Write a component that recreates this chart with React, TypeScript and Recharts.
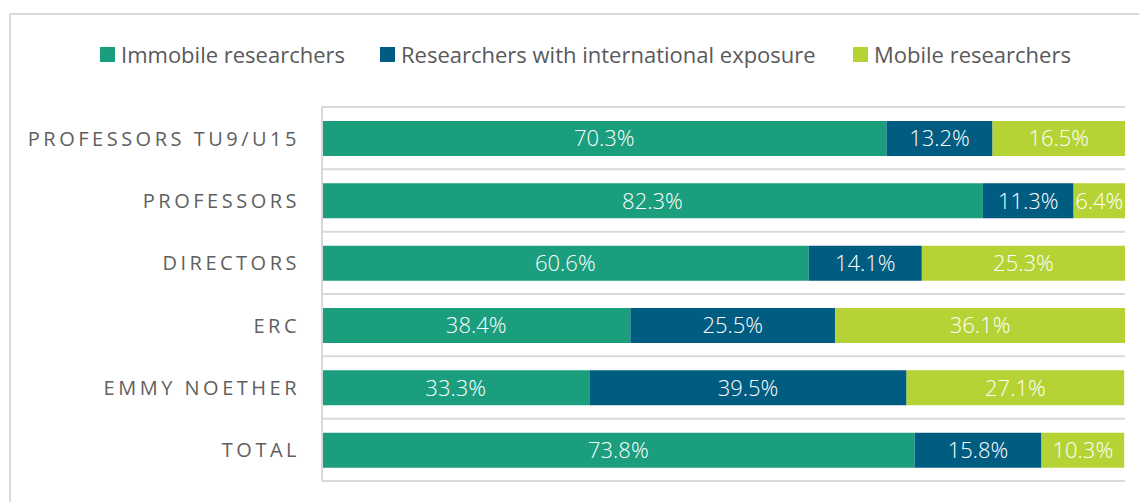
import React from "react";
import { BarChart, Bar, XAxis, YAxis, CartesianGrid, LabelList } from "recharts";

const categories = ["PROFESSORS TU9/U15", "PROFESSORS", "DIRECTORS", "ERC", "EMMY NOETHER", "TOTAL"];
const immobile = [70.3, 82.3, 60.6, 38.4, 33.3, 73.8];
const international = [13.2, 11.3, 14.1, 25.5, 39.5, 15.8];
const mobile = [16.5, 6.4, 25.3, 36.1, 27.1, 10.3];

const series = [
  { key: "immobile", name: "Immobile researchers", color: "#1a9e7e" },
  { key: "international", name: "Researchers with international exposure", color: "#005c80" },
  { key: "mobile", name: "Mobile researchers", color: "#b5d334" },
];
// left edge of each legend swatch
const legendX = [100, 380, 853];

const data = categories.map((name, i) => ({
  name,
  immobile: immobile[i],
  international: international[i],
  mobile: mobile[i],
}));

const FONT = "'Open Sans', 'Noto Sans', sans-serif";

const CategoryTick = (props: any) => {
  const { x, y, payload } = props;
  return (
    <text
      x={x + 3}
      y={y}
      dy={7.5}
      textAnchor="end"
      fill="#5f5f5f"
      fontFamily={FONT}
      fontSize={20}
      letterSpacing={3.5}
    >
      {payload.value}
    </text>
  );
};

const ChartLegend = () => (
  <div style={{ position: "absolute", left: 0, top: 40, width: 1139, height: 30, fontFamily: FONT, fontSize: 22, color: "#595959" }}>
    {series.map((s, i) => (
      <div
        key={s.key}
        style={{ position: "absolute", left: legendX[i], top: 0, display: "flex", alignItems: "center", whiteSpace: "nowrap", lineHeight: "28px" }}
      >
        <span style={{ width: 15, height: 15, background: s.color, display: "inline-block", marginRight: 6 }} />
        <span>{s.name}</span>
      </div>
    ))}
  </div>
);

export default function App() {
  return (
    <div style={{ position: "absolute", left: 0, top: 0, width: 1139, height: 502, background: "#fff", overflow: "hidden" }}>
      <div
        style={{
          position: "absolute",
          left: 9,
          top: 13,
          width: 1200,
          height: 600,
          border: "2px solid #d9d9d9",
          borderRadius: 2,
        }}
      />
      <ChartLegend />
      <BarChart
        width={1139}
        height={502}
        data={data}
        layout="vertical"
        margin={{ top: 107, right: 14, bottom: 21, left: 0 }}
        barSize={35}
        style={{ position: "absolute", left: 0, top: 0 }}
      >
        <CartesianGrid
          vertical={false}
          stroke="#d9d9d9"
          strokeWidth={2}
          horizontalCoordinatesGenerator={({ offset }: any) =>
            Array.from({ length: categories.length + 1 }, (_, i) => offset.top + (i * offset.height) / categories.length)
          }
        />
        <XAxis type="number" domain={[0, 100]} hide />
        <YAxis
          type="category"
          dataKey="name"
          width={322}
          axisLine={{ stroke: "#d9d9d9", strokeWidth: 2 }}
          tickLine={false}
          tickSize={0}
          tickMargin={25}
          tick={<CategoryTick />}
          interval={0}
        />
        {series.map((s) => (
          <Bar key={s.key} dataKey={s.key} name={s.name} stackId="a" fill={s.color} isAnimationActive={false}>
            <LabelList
              dataKey={s.key}
              position="center"
              fill="#ffffff"
              fontFamily={FONT}
              fontSize={22}
              fontWeight={300}
              formatter={(v: any) => `${v}%`}
            />
          </Bar>
        ))}
      </BarChart>
    </div>
  );
}
